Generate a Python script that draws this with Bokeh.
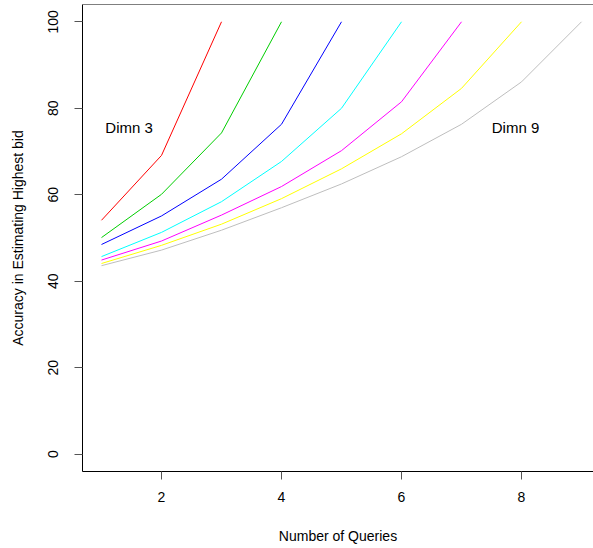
import numpy as np
from bokeh.plotting import figure
from bokeh.models import Range1d, Span, FixedTicker
from bokeh.core.properties import value
from bokeh.embed import file_html
from bokeh.resources import INLINE

# Data: accuracy vs number of queries, one series per dimension (3..9)
queries_d3 = [1, 2, 3]
acc_d3 = [54.1, 69.1, 100]
queries_d4 = [1, 2, 3, 4]
acc_d4 = [50.1, 60.1, 74.3, 100]
queries_d5 = [1, 2, 3, 4, 5]
acc_d5 = [48.5, 55.1, 63.6, 76.3, 100]
queries_d6 = [1, 2, 3, 4, 5, 6]
acc_d6 = [45.7, 51.3, 58.4, 67.7, 80.0, 100]
queries_d7 = [1, 2, 3, 4, 5, 6, 7]
acc_d7 = [44.9, 49.3, 55.3, 61.9, 70.2, 81.5, 100]
queries_d8 = [1, 2, 3, 4, 5, 6, 7, 8]
acc_d8 = [44.1, 48.3, 53.2, 59.1, 66.0, 74.1, 84.6, 100]
queries_d9 = [1, 2, 3, 4, 5, 6, 7, 8, 9]
acc_d9 = [43.6, 47.2, 51.8, 57.0, 62.5, 68.8, 76.3, 86.1, 100]

series_colors = ["#FF0000", "#00CD00", "#0000FF", "#00FFFF", "#FF00FF", "#FFFF00", "#BEBEBE"]
x_ticks = [2, 4, 6, 8]
y_ticks = [0, 20, 40, 60, 80, 100]
annotations = ["Dimn 3", "Dimn 9"]
annot_x = [1.46, 7.9]
annot_y = [75.6, 75.6]

FONT = "Liberation Sans"

p = figure(width=593, height=548, output_backend="svg", toolbar_location=None,
           x_range=Range1d(0.6833, 9.2), y_range=Range1d(-4, 104),
           min_border_left=82, min_border_right=0, min_border_top=4, min_border_bottom=77)
p.background_fill_color = "white"
p.border_fill_color = "white"
p.outline_line_color = None
p.grid.visible = False

xs = [queries_d3, queries_d4, queries_d5, queries_d6, queries_d7, queries_d8, queries_d9]
ys = [acc_d3, acc_d4, acc_d5, acc_d6, acc_d7, acc_d8, acc_d9]
for x, y, c in zip(xs, ys, series_colors):
    p.line(x, y, line_color=c, line_width=1)

p.text(x=annot_x, y=annot_y, text=annotations, text_font=value(FONT),
       text_font_size="15px", text_align="center", text_baseline="middle", text_color="black")

# top edge of the box
p.add_layout(Span(location=104, dimension="width", line_color="black", line_width=1))

for ax in (p.xaxis[0], p.yaxis[0]):
    ax.axis_line_color = "black"
    ax.axis_line_width = 1
    ax.major_tick_line_color = "#555555"
    ax.major_tick_in = 0
    ax.major_tick_out = 8
    ax.minor_tick_line_color = None
    ax.major_label_text_font = FONT
    ax.major_label_text_font_size = "14px"
    ax.major_label_text_color = "black"
    ax.axis_label_text_font = FONT
    ax.axis_label_text_font_size = "14px"
    ax.axis_label_text_font_style = "normal"
    ax.axis_label_text_color = "black"

p.xaxis.ticker = FixedTicker(ticks=x_ticks)
p.yaxis.ticker = FixedTicker(ticks=y_ticks)
p.xaxis.axis_label = "Number of Queries"
p.yaxis.axis_label = "Accuracy in Estimating Highest bid"
p.xaxis.major_label_standoff = 12
p.xaxis.axis_label_standoff = 23
p.yaxis.major_label_orientation = "vertical"
p.yaxis.major_label_standoff = 16
p.yaxis.axis_label_standoff = 20

open("out.html", "w").write(file_html(p, INLINE))
